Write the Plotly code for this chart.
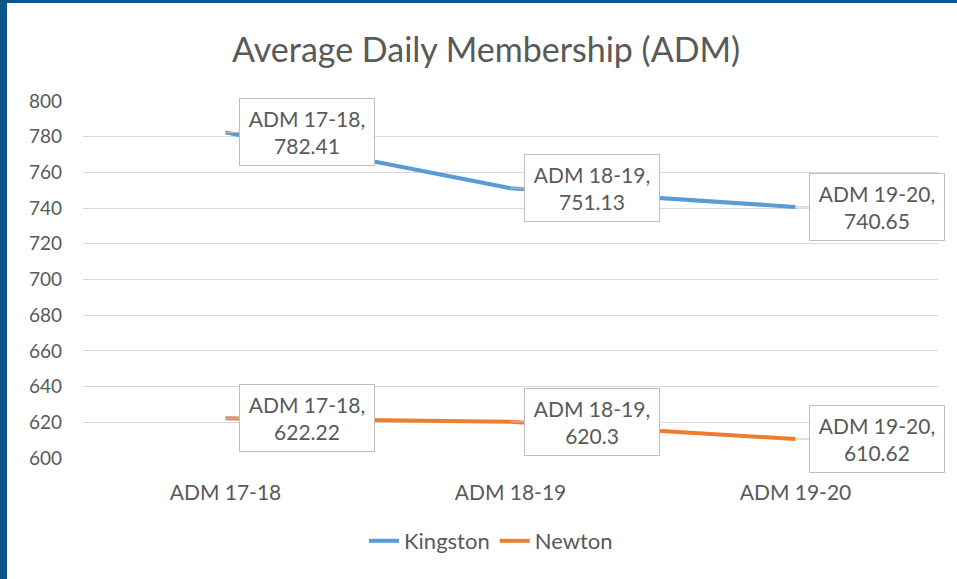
import plotly.graph_objects as go

# data
categories = ["ADM 17-18", "ADM 18-19", "ADM 19-20"]
kingston = [782.41, 751.13, 740.65]
newton = [622.22, 620.3, 610.62]
y_ticks = list(range(600, 801, 20))

BLUE = "#5B9BD5"
ORANGE = "#ED7D31"
TEXT = "#595959"
GRID = "#D9D9D9"
FRAME = "#0B5788"
FONT = "Lato, Carlito, Calibri, sans-serif"

W, H = 957, 579
L, R, T, B = 83, 19, 101, 121
pw, ph = W - L - R, H - T - B

fig = go.Figure()
fig.add_trace(go.Scatter(x=categories, y=kingston, name="Kingston", mode="lines",
                         line=dict(color=BLUE, width=4)))
fig.add_trace(go.Scatter(x=categories, y=newton, name="Newton", mode="lines",
                         line=dict(color=ORANGE, width=4)))

# callout-style data labels
for series in (kingston, newton):
    for cat, v in zip(categories, series):
        fig.add_annotation(
            x=cat, y=v, text=f"{cat},<br>{v:g}",
            showarrow=True, arrowhead=0, arrowwidth=1, arrowcolor="#BFBFBF",
            ax=81, ay=0, width=128, height=60, borderpad=3,
            bgcolor="white", bordercolor="#BFBFBF", borderwidth=1,
            font=dict(family=FONT, size=21, color=TEXT),
        )

# dark frame on the left and top edges
fig.add_shape(type="rect", xref="paper", yref="paper", layer="above",
              x0=-L / pw, x1=(7 - L) / pw, y0=-B / ph, y1=1 + T / ph,
              fillcolor=FRAME, line_width=0)
fig.add_shape(type="rect", xref="paper", yref="paper", layer="above",
              x0=-L / pw, x1=1 + R / pw, y0=1 + (T - 3) / ph, y1=1 + T / ph,
              fillcolor=FRAME, line_width=0)

fig.update_layout(
    width=W, height=H,
    margin=dict(l=L, r=R, t=T, b=B),
    paper_bgcolor="white", plot_bgcolor="white",
    font=dict(family=FONT, color=TEXT),
    title=dict(text="Average Daily Membership (ADM)", x=0.508, xanchor="center",
               y=1 - 50 / H, yanchor="middle",
               font=dict(family=FONT, size=34, color=TEXT)),
    legend=dict(orientation="h", x=(491 - L) / pw, xanchor="center", y=-83 / ph,
                yanchor="middle", font=dict(family=FONT, size=22, color=TEXT)),
    showlegend=True,
)
fig.update_xaxes(range=[-0.5, 2.5], showgrid=False, showline=False, zeroline=False,
                 tickfont=dict(size=21, color=TEXT), ticklabelstandoff=20)
fig.update_yaxes(range=[600, 800], tickvals=y_ticks, showgrid=True, gridcolor=GRID,
                 gridwidth=1, zeroline=False, showline=False,
                 tickfont=dict(size=19, color=TEXT), ticklabelstandoff=20)

fig.write_html("out.html", config={"displayModeBar": False},
               post_script="document.body.style.margin='0';")
